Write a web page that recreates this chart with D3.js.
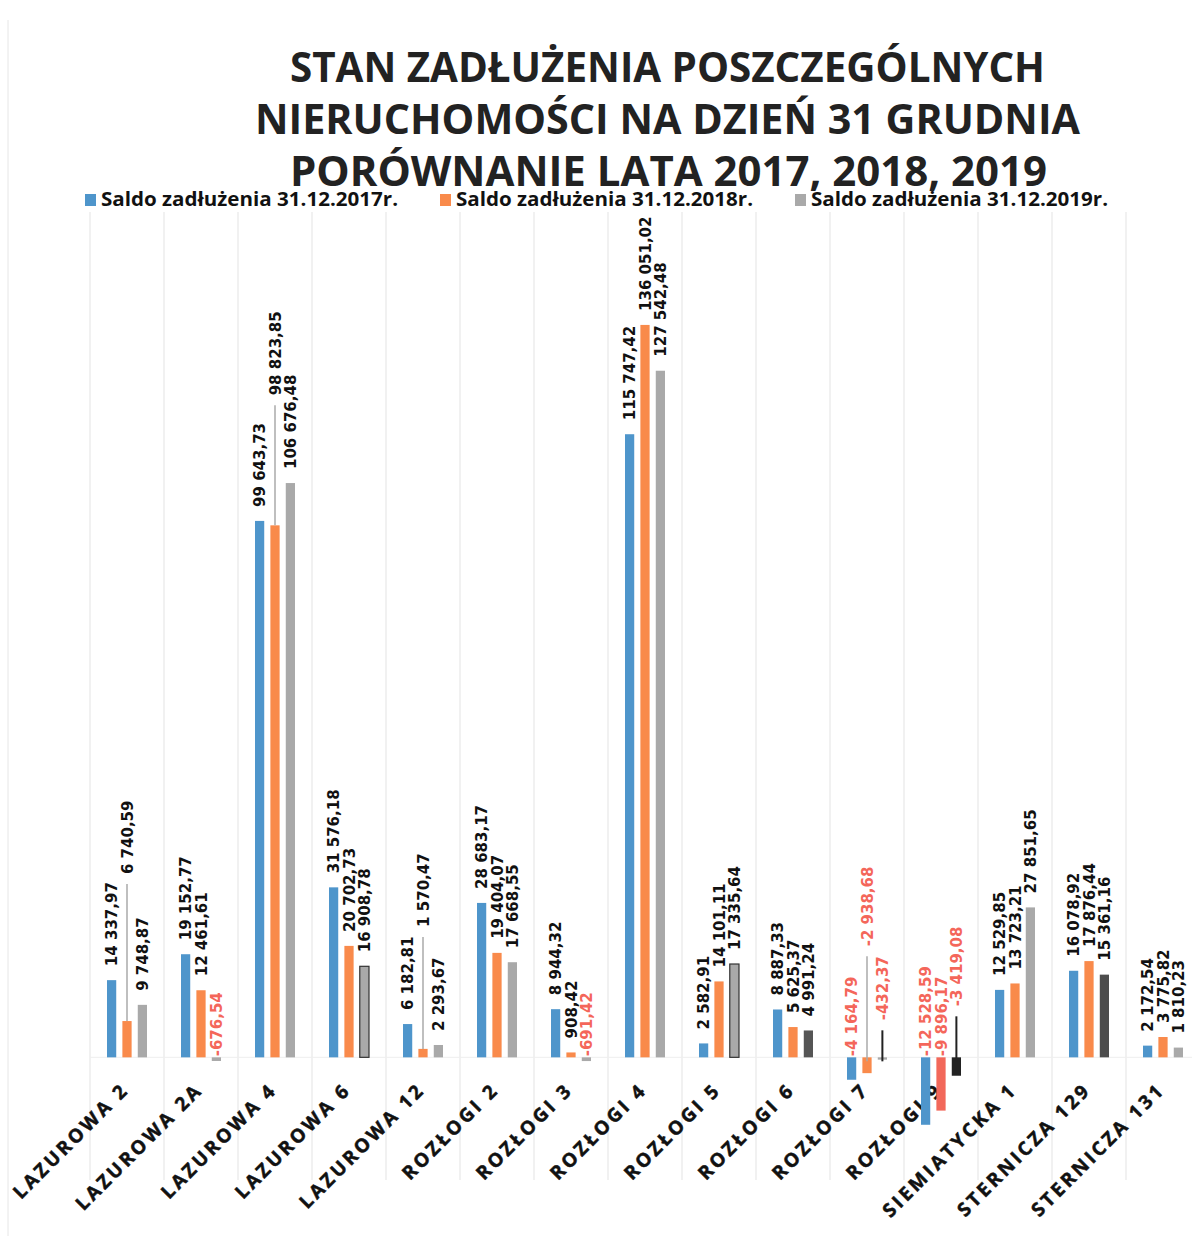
<!DOCTYPE html>
<html>
<head>
<meta charset="utf-8">
<script src="https://cdn.jsdelivr.net/npm/d3@7"></script>
<style>
  body { margin: 0; background: #fff; }
  svg { display: block; }
</style>
</head>
<body>
<div id="chart"></div>
<script>
var categories = ["LAZUROWA 2", "LAZUROWA 2A", "LAZUROWA 4", "LAZUROWA 6", "LAZUROWA 12",
  "ROZŁOGI 2", "ROZŁOGI 3", "ROZŁOGI 4", "ROZŁOGI 5", "ROZŁOGI 6", "ROZŁOGI 7", "ROZŁOGI 9",
  "SIEMIATYCKA 1", "STERNICZA 129", "STERNICZA 131"];

var saldo2017 = [14337.97, 19152.77, 99643.73, 31576.18, 6182.81, 28683.17, 8944.32, 115747.42,
  2582.91, 8887.33, -4164.79, -12528.59, 12529.85, 16078.92, 2172.54];
var saldo2018 = [6740.59, 12461.61, 98823.85, 20702.73, 1570.47, 19404.07, 908.42, 136051.02,
  14101.11, 5625.37, -2938.68, -9896.17, 13723.21, 17876.44, 3775.82];
var saldo2019 = [9748.87, -676.54, 106676.48, 16908.78, 2293.67, 17668.55, -691.42, 127542.48,
  17335.64, 4991.24, -432.37, -3419.08, 27851.65, 15361.16, 1810.23];

var seriesNames = ["Saldo zadłużenia 31.12.2017r.", "Saldo zadłużenia 31.12.2018r.", "Saldo zadłużenia 31.12.2019r."];
var titleLines = ["STAN ZADŁUŻENIA POSZCZEGÓLNYCH", "NIERUCHOMOŚCI NA DZIEŃ 31 GRUDNIA", "PORÓWNANIE LATA 2017, 2018, 2019"];

var colors = ["#4e95cb", "#f98a4b", "#a9a9a9"];
var negColor = "#f4665a";

// a few bars in the scan were recoloured by hand
var fillOverride = {
  "ROZŁOGI 9|1": "#f2685a",
  "ROZŁOGI 9|2": "#222",
  "ROZŁOGI 6|2": "#555",
  "STERNICZA 129|2": "#4d4d4d"
};
var outlined = ["LAZUROWA 6|2", "ROZŁOGI 5|2"];

// labels that were pulled away from their bar (with a leader line)
var labelShift = {
  "LAZUROWA 2|1": { dy: -133, line: "#aaa" },
  "LAZUROWA 4|1": { dy: -116, line: "#aaa" },
  "LAZUROWA 12|1": { dy: -108, line: "#aaa" },
  "ROZŁOGI 7|1": { dy: -110, line: "#aaa" },
  "ROZŁOGI 7|2": { dy: -36, line: "#222" },
  "ROZŁOGI 9|2": { dy: -50, line: "#222" }
};

var svgWidth = 1192;
var svgHeight = 1236;

var svg = d3.select("#chart")
  .append("svg")
  .attr("width", svgWidth)
  .attr("height", svgHeight);

var allSeries = [saldo2017, saldo2018, saldo2019];
var data = [];
categories.forEach(function(c, i) {
  allSeries.forEach(function(s, j) {
    data.push({ cat: c, s: j, value: s[i], key: c + "|" + j });
  });
});

// scales
var x = d3.scaleBand()
  .domain(categories)
  .range([90, 1200]);

var xSub = d3.scaleBand()
  .domain([0, 1, 2])
  .range([17, 57])
  .paddingInner(0.4);

var y = d3.scaleLinear()
  .domain([-20000, 160000])
  .range([1165, 196]);

var fmt = d3.formatLocale({ decimal: ",", thousands: " ", grouping: [3], currency: ["", ""], minus: "-" })
  .format(",.2f");

// faint vertical grid lines between categories
var bounds = categories.map(function(c) { return x(c); }).concat([x.range()[1]]);
svg.append("g")
  .selectAll("line")
  .data(bounds)
  .enter()
  .append("line")
  .attr("x1", d => d).attr("x2", d => d)
  .attr("y1", 212).attr("y2", 1180)
  .attr("stroke", "#ececec")
  .attr("stroke-width", 1.5);

svg.append("line")
  .attr("x1", 8).attr("x2", 8)
  .attr("y1", 20).attr("y2", 1236)
  .attr("stroke", "#e6e6e6");

// baseline
svg.append("line")
  .attr("x1", 90).attr("x2", 1192)
  .attr("y1", y(0)).attr("y2", y(0))
  .attr("stroke", "#eeeeee");

// category labels (drawn under the bars, like in the scan)
svg.append("g")
  .selectAll("text")
  .data(categories)
  .enter()
  .append("text")
  .attr("transform", d => `translate(${x(d) + x.bandwidth() / 2 + 3}, 1091) rotate(-45)`)
  .attr("text-anchor", "end")
  .attr("font-family", "Open Sans")
  .attr("font-weight", "bold")
  .attr("font-size", "19px")
  .style("letter-spacing", "3px")
  .attr("fill", "#111")
  .attr("stroke", "#111")
  .attr("stroke-width", 0.5)
  .text(d => d);

// bars
svg.append("g")
  .selectAll("rect")
  .data(data)
  .enter()
  .append("rect")
  .attr("x", d => x(d.cat) + xSub(d.s))
  .attr("width", xSub.bandwidth())
  .attr("y", d => Math.min(y(d.value), y(0)))
  .attr("height", d => Math.max(1.5, Math.abs(y(d.value) - y(0))))
  .attr("fill", d => fillOverride[d.key] || colors[d.s])
  .attr("stroke", d => outlined.indexOf(d.key) >= 0 ? "#333" : "none")
  .attr("stroke-width", 1.2);

// value labels, rotated
function labelBottom(d) {
  var base = d.value >= 0 ? y(d.value) - 14 : y(0) - 1;
  var sh = labelShift[d.key];
  return base + (sh ? sh.dy : 0);
}

var shifted = data.filter(d => labelShift[d.key]);
svg.append("g")
  .selectAll("line")
  .data(shifted)
  .enter()
  .append("line")
  .attr("x1", d => x(d.cat) + xSub(d.s) + xSub.bandwidth() / 2)
  .attr("x2", d => x(d.cat) + xSub(d.s) + xSub.bandwidth() / 2)
  .attr("y1", d => labelBottom(d) + 10)
  .attr("y2", d => d.value >= 0 ? y(d.value) : y(0) + 4)
  .attr("stroke", d => labelShift[d.key].line)
  .attr("stroke-width", d => labelShift[d.key].line === "#222" ? 2 : 1.5);

svg.append("g")
  .selectAll("text")
  .data(data)
  .enter()
  .append("text")
  .attr("transform", d => `translate(${x(d.cat) + xSub(d.s) + xSub.bandwidth() / 2 + 5.5}, ${labelBottom(d)}) rotate(-90)`)
  .attr("font-family", "DejaVu Sans")
  .attr("font-weight", "bold")
  .attr("font-size", "15px")
  .attr("fill", d => d.value < 0 ? negColor : "#111")
  .text(d => fmt(d.value));

// title
var titleX = [290, 255, 290];
var titleLen = [755, 825, 757];
svg.append("g")
  .selectAll("text")
  .data(titleLines)
  .enter()
  .append("text")
  .attr("x", (d, i) => titleX[i])
  .attr("y", (d, i) => 82 + i * 52)
  .attr("textLength", (d, i) => titleLen[i])
  .attr("lengthAdjust", "spacingAndGlyphs")
  .attr("font-family", "Open Sans")
  .attr("font-weight", "bold")
  .attr("font-size", "41px")
  .attr("fill", "#222")
  .text(d => d);

// legend
var legendX = [85, 440, 795];
var legend = svg.append("g")
  .selectAll("g")
  .data(seriesNames)
  .enter()
  .append("g")
  .attr("transform", (d, i) => `translate(${legendX[i]}, 194)`);

legend.append("rect")
  .attr("width", 11)
  .attr("height", 12)
  .attr("fill", (d, i) => colors[i]);

legend.append("text")
  .attr("x", 16)
  .attr("y", 12)
  .attr("textLength", 297)
  .attr("lengthAdjust", "spacingAndGlyphs")
  .attr("font-family", "Open Sans")
  .attr("font-weight", "bold")
  .attr("font-size", "19px")
  .attr("fill", "#111")
  .text(d => d);
</script>
</body>
</html>
